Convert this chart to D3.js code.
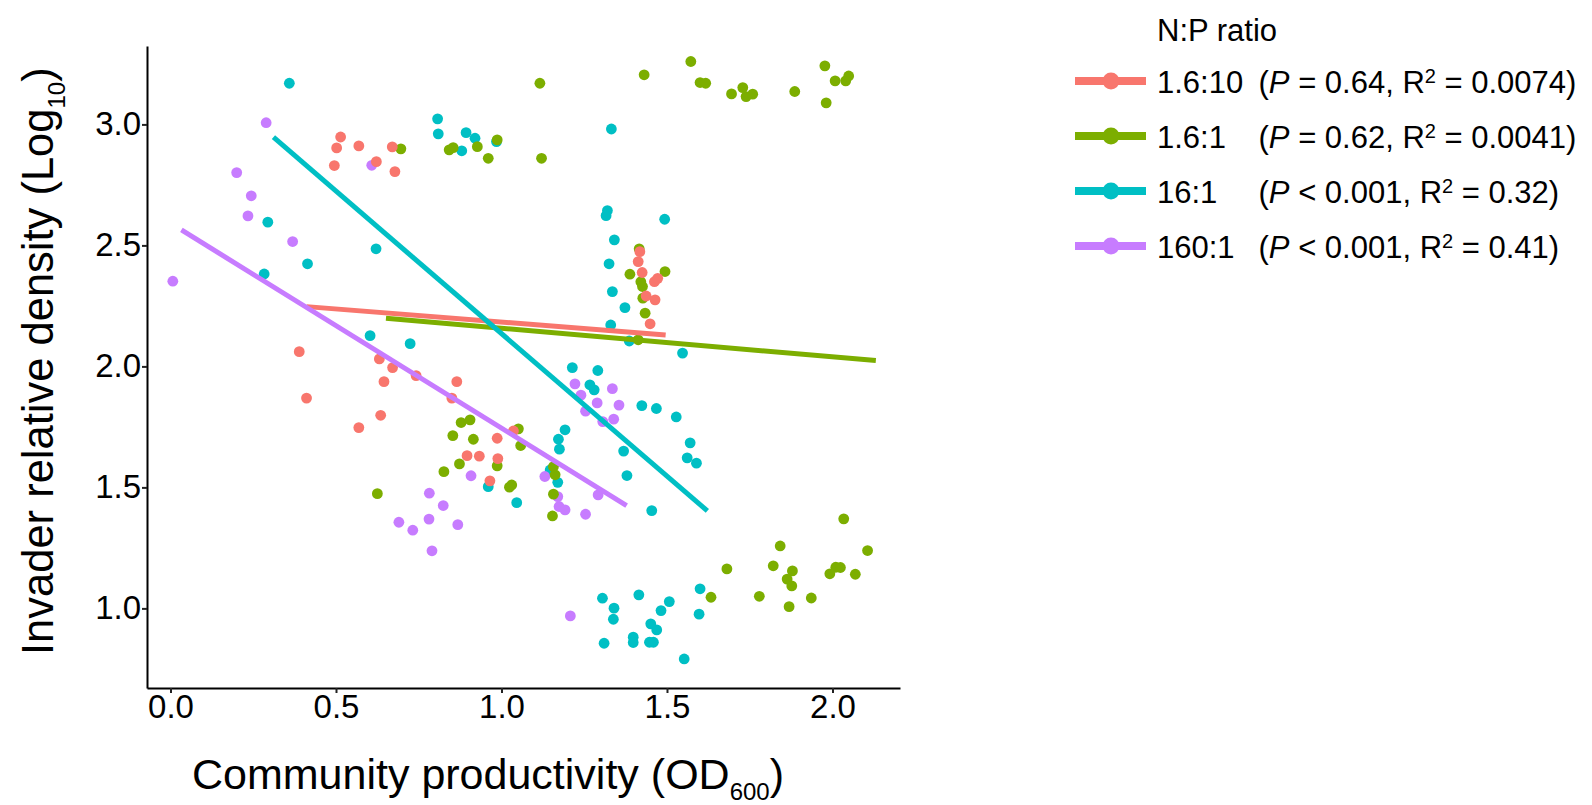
<!DOCTYPE html>
<html>
<head>
<meta charset="utf-8">
<script src="https://cdn.jsdelivr.net/npm/d3@7"></script>
<style>
  body { margin: 0; background: #fff; }
  text { font-family: "Liberation Sans", Arial, sans-serif; fill: #000; }
</style>
</head>
<body>
<div id="chart"></div>
<script>
// groups + colours (ggplot default hues)
var groups = ["1.6:10", "1.6:1", "16:1", "160:1"];
var groupColors = ["#F8766D", "#7CAE00", "#00BFC4", "#C77CFF"];
var pText = ["= 0.64", "= 0.62", "< 0.001", "< 0.001"];
var r2Text = ["0.0074", "0.0041", "0.32", "0.41"];

// points: [OD600, log10 density]
var pts1_6to10 = [
  [0.514, 2.948], [0.502, 2.903], [0.569, 2.911], [0.670, 2.907], [0.622, 2.846],
  [0.495, 2.830], [0.678, 2.805], [0.389, 2.061], [0.411, 1.869], [0.631, 2.031],
  [0.671, 1.995], [0.645, 1.937], [0.742, 1.962], [0.865, 1.937], [0.850, 1.869],
  [0.635, 1.798], [0.569, 1.747], [0.987, 1.703], [1.036, 1.733], [0.896, 1.631],
  [0.933, 1.629], [0.989, 1.619], [0.965, 1.527], [1.418, 2.474], [1.413, 2.433],
  [1.425, 2.388], [1.462, 2.350], [1.472, 2.364], [1.437, 2.291], [1.464, 2.275],
  [1.449, 2.176]
];
var pts1_6to1 = [
  [0.696, 2.899], [0.842, 2.895], [0.854, 2.904], [0.927, 2.908], [0.960, 2.860],
  [0.987, 2.936], [1.116, 3.170], [1.121, 2.860], [1.431, 3.205], [1.572, 3.260],
  [1.600, 3.173], [1.617, 3.170], [1.695, 3.126], [1.729, 3.152], [1.739, 3.115],
  [1.759, 3.125], [1.886, 3.136], [1.977, 3.242], [2.008, 3.180], [2.040, 3.180],
  [2.049, 3.200], [1.981, 3.089],
  [1.416, 2.486], [1.388, 2.381], [1.421, 2.350], [1.426, 2.330], [1.494, 2.392],
  [1.427, 2.282], [1.434, 2.220], [1.413, 2.110],
  [0.878, 1.768], [0.905, 1.779], [0.853, 1.714], [0.915, 1.699], [1.051, 1.742],
  [1.058, 1.673], [0.873, 1.597], [0.987, 1.589], [0.826, 1.565], [1.024, 1.501],
  [1.031, 1.510], [1.157, 1.586], [1.162, 1.552], [1.157, 1.472], [1.154, 1.382],
  [0.625, 1.474],
  [2.034, 1.370], [1.842, 1.258], [2.106, 1.239], [1.681, 1.163], [1.821, 1.176],
  [1.879, 1.155], [1.863, 1.121], [1.877, 1.093], [2.010, 1.170], [2.024, 1.169],
  [1.992, 1.143], [2.069, 1.141], [1.633, 1.046], [1.779, 1.050], [1.936, 1.043],
  [1.869, 1.007]
];
var pts16to1 = [
  [0.359, 3.170], [0.807, 3.023], [0.809, 2.961], [0.893, 2.966], [0.920, 2.943],
  [0.880, 2.891], [0.985, 2.929], [1.332, 2.981], [0.294, 2.596], [0.621, 2.486],
  [0.414, 2.424], [0.283, 2.382], [0.603, 2.127], [0.724, 2.094],
  [1.320, 2.644], [1.316, 2.623], [1.493, 2.608], [1.341, 2.523], [1.325, 2.424],
  [1.335, 2.309], [1.373, 2.243], [1.330, 2.171], [1.386, 2.105], [1.547, 2.055],
  [1.214, 1.995], [1.291, 1.983], [1.267, 1.924], [1.280, 1.903], [1.424, 1.838],
  [1.468, 1.826], [1.528, 1.791], [1.192, 1.738], [1.172, 1.699], [1.175, 1.658],
  [1.570, 1.684], [1.369, 1.650], [1.561, 1.622], [1.589, 1.600], [1.379, 1.549],
  [1.147, 1.572], [1.170, 1.521], [1.454, 1.404], [0.960, 1.503], [1.046, 1.437],
  [1.305, 1.042], [1.415, 1.056], [1.340, 1.001], [1.338, 0.955], [1.507, 1.028],
  [1.482, 0.991], [1.600, 1.081], [1.597, 0.976], [1.451, 0.936], [1.469, 0.911],
  [1.310, 0.856], [1.398, 0.881], [1.398, 0.859], [1.447, 0.860], [1.459, 0.860],
  [1.552, 0.791]
];
var pts160to1 = [
  [0.289, 3.007], [0.200, 2.801], [0.244, 2.705], [0.234, 2.622], [0.369, 2.516],
  [0.007, 2.352], [0.608, 2.831],
  [1.222, 1.928], [1.240, 1.881], [1.335, 1.908], [1.289, 1.849], [1.355, 1.840],
  [1.254, 1.815], [1.339, 1.782], [1.306, 1.772], [1.131, 1.545], [1.170, 1.462],
  [1.174, 1.421], [1.192, 1.407], [1.254, 1.389], [1.292, 1.469], [1.208, 0.969],
  [0.908, 1.548], [0.782, 1.476], [0.824, 1.425], [0.690, 1.356], [0.732, 1.323],
  [0.781, 1.369], [0.868, 1.346], [0.790, 1.238]
];
var groupPoints = [pts1_6to10, pts1_6to1, pts16to1, pts160to1];

// fitted lines: [x start, y start, x end, y end]
var fitLines = [
  [0.411, 2.247, 1.496, 2.130],
  [0.651, 2.199, 2.131, 2.024],
  [0.311, 2.947, 1.622, 1.403],
  [0.033, 2.564, 1.378, 1.425]
];

var xTicks = [0, 0.5, 1, 1.5, 2];
var yTicks = [1, 1.5, 2, 2.5, 3];

var svgWidth = 1592;
var svgHeight = 805;
var panel = { left: 147, right: 900, top: 46, bottom: 688 };

var svg = d3.select("#chart")
  .append("svg")
  .attr("width", svgWidth)
  .attr("height", svgHeight);

var x = d3.scaleLinear().domain([-0.071, 2.204]).range([panel.left, panel.right]);
var y = d3.scaleLinear().domain([0.671, 3.324]).range([panel.bottom, panel.top]);

// points, drawn teal, purple, green, red
var drawOrder = [2, 3, 1, 0];
drawOrder.forEach(function(gi) {
  svg.append("g")
    .selectAll("circle")
    .data(groupPoints[gi])
    .enter()
    .append("circle")
    .attr("cx", function(d) { return x(d[0]); })
    .attr("cy", function(d) { return y(d[1]); })
    .attr("r", 5.4)
    .attr("fill", groupColors[gi]);
});

// regression lines
svg.append("g")
  .selectAll("line")
  .data(fitLines)
  .enter()
  .append("line")
  .attr("x1", function(d) { return x(d[0]); })
  .attr("y1", function(d) { return y(d[1]); })
  .attr("x2", function(d) { return x(d[2]); })
  .attr("y2", function(d) { return y(d[3]); })
  .attr("stroke", function(d, i) { return groupColors[i]; })
  .attr("stroke-width", 5);

// axes
var xAxis = svg.append("g")
  .attr("transform", "translate(0," + panel.bottom + ")")
  .call(d3.axisBottom(x).tickValues(xTicks).tickFormat(d3.format(".1f"))
    .tickSize(5).tickSizeOuter(0).tickPadding(2));

var yAxis = svg.append("g")
  .attr("transform", "translate(" + panel.left + ",0)")
  .call(d3.axisLeft(y).tickValues(yTicks).tickFormat(d3.format(".1f"))
    .tickSize(5).tickSizeOuter(0).tickPadding(1));

[xAxis, yAxis].forEach(function(ax) {
  ax.attr("font-family", null).attr("font-size", null);
  ax.select(".domain").attr("stroke", "#000").attr("stroke-width", 2);
  ax.selectAll(".tick line").attr("stroke", "#222").attr("stroke-width", 2);
  ax.selectAll(".tick text").attr("fill", "#000").style("font-size", "33px");
});

// axis titles
var xTitle = svg.append("text")
  .attr("transform", "translate(192,789)")
  .style("font-size", "43px");
xTitle.append("tspan").text("Community productivity (OD");
xTitle.append("tspan").attr("dy", 11).style("font-size", "24px").text("600");
xTitle.append("tspan").attr("dy", -11).text(")");

var yTitle = svg.append("text")
  .attr("transform", "translate(53,655)rotate(-90)")
  .style("font-size", "43.5px");
yTitle.append("tspan").text("Invader relative density (Log");
yTitle.append("tspan").attr("dy", 12).style("font-size", "24px").text("10");
yTitle.append("tspan").attr("dy", -12).text(")");

// legend
var legend = svg.append("g");
legend.append("text")
  .attr("x", 1157)
  .attr("y", 40.5)
  .style("font-size", "31px")
  .text("N:P ratio");

groups.forEach(function(name, i) {
  var row = legend.append("g")
    .attr("transform", "translate(0," + (81 + i * 55) + ")");
  row.append("line")
    .attr("x1", 1075).attr("x2", 1146)
    .attr("y1", 0).attr("y2", 0)
    .attr("stroke", groupColors[i])
    .attr("stroke-width", 8);
  row.append("circle")
    .attr("cx", 1111)
    .attr("cy", 0)
    .attr("r", 8.5)
    .attr("fill", groupColors[i]);
  row.append("text")
    .attr("x", 1157)
    .attr("y", 11.5)
    .style("font-size", "31px")
    .text(name);

  var stat = row.append("text")
    .attr("x", 1258.5)
    .attr("y", 11.5)
    .style("font-size", "31px");
  stat.append("tspan").text("(");
  stat.append("tspan").style("font-style", "italic").text("P");
  stat.append("tspan").text(" " + pText[i] + ", R");
  stat.append("tspan").attr("dy", -10).style("font-size", "20px").text("2");
  stat.append("tspan").attr("dy", 10).text(" = " + r2Text[i] + ")");
});
</script>
</body>
</html>
